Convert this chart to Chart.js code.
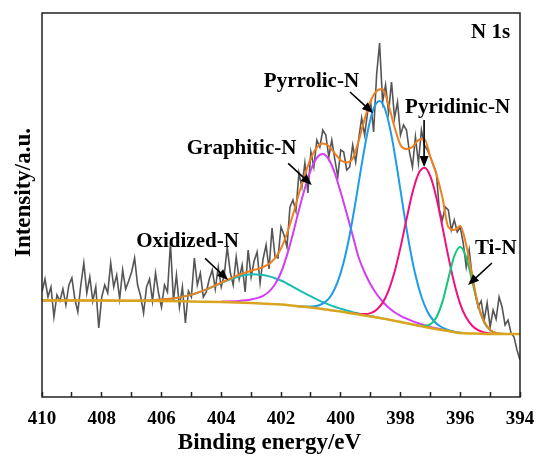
<!DOCTYPE html>
<html>
<head>
<meta charset="utf-8">
<script src="https://cdn.jsdelivr.net/npm/chart.js@4.4.1/dist/chart.umd.min.js"></script>
<style>
html, body { margin: 0; padding: 0; background: #fff; }
</style>
</head>
<body>
<canvas id="chart" width="537" height="457"></canvas>
<script>
// N 1s XPS spectrum, intensity in arbitrary units

// raw counts, 0.1 eV steps
const rawE = [410.0,409.9,409.8,409.7,409.6,409.5,409.4,409.3,409.2,409.1,409.0,408.9,408.8,408.7,408.6,408.5,408.4,408.3,408.2,408.1,
	408.0,407.9,407.8,407.7,407.6,407.5,407.4,407.3,407.2,407.1,407.0,406.9,406.8,406.7,406.6,406.5,406.4,406.3,406.2,406.1,
	406.0,405.9,405.8,405.7,405.6,405.5,405.4,405.3,405.2,405.1,405.0,404.9,404.8,404.7,404.6,404.5,404.4,404.3,404.2,404.1,
	404.0,403.9,403.8,403.7,403.6,403.5,403.4,403.3,403.2,403.1,403.0,402.9,402.8,402.7,402.6,402.5,402.4,402.3,402.2,402.1,
	402.0,401.9,401.8,401.7,401.6,401.5,401.4,401.3,401.2,401.1,401.0,400.9,400.8,400.7,400.6,400.5,400.4,400.3,400.2,400.1,
	400.0,399.9,399.8,399.7,399.6,399.5,399.4,399.3,399.2,399.1,399.0,398.9,398.8,398.7,398.6,398.5,398.4,398.3,398.2,398.1,
	398.0,397.9,397.8,397.7,397.6,397.5,397.4,397.3,397.2,397.1,397.0,396.9,396.8,396.7,396.6,396.5,396.4,396.3,396.2,396.1,
	396.0,395.9,395.8,395.7,395.6,395.5,395.4,395.3,395.2,395.1,395.0,394.9,394.8,394.7,394.6,394.5,394.4,394.3,394.2,394.1,394.0];
const rawI = [105,118,100,110,80,102,96,108,92,112,119,98,85,112,134,104,120,96,110,69,
	100,112,104,134,110,122,98,127,108,116,125,139,112,101,84,110,118,96,124,104,
	90,112,105,154,96,122,90,110,74,106,100,139,112,124,100,105,118,127,108,130,
	110,122,150,125,112,140,118,132,105,147,120,136,145,114,138,152,128,169,140,139,
	170,162,150,190,197,186,224,210,234,204,245,230,257,250,267,262,240,257,238,220,
	247,245,227,230,252,235,258,279,262,285,295,265,322,354,295,312,285,315,279,295,
	262,272,267,245,230,260,234,267,252,247,240,232,224,187,177,190,187,167,177,165,
	170,154,130,147,120,104,90,96,77,94,70,87,78,100,90,72,77,64,60,47,37];

// background
const baseE = [410, 408, 406, 405, 404, 403, 402.5, 402, 401.5, 401, 400.5, 400, 399.5, 399, 398.5, 398, 397.5, 397, 396.5, 396, 395.5, 395, 394];
const baseI = [96.5, 96.5, 96, 95.5, 95, 94, 93.3, 92.5, 91, 89.5, 87.5, 85.5, 83, 80.5, 78, 75, 72, 69, 66.5, 64, 63.5, 63, 63];

// fitted envelope
const envE = [410,408,406.8,406.6,406.4,406.2,406.0,405.8,405.6,405.4,405.2,405.0,404.8,404.6,404.4,404.2,404.0,403.8,403.6,403.4,
	403.2,403.0,402.8,402.6,402.4,402.2,402.0,401.8,401.6,401.4,401.2,401.0,400.8,400.6,400.4,400.2,400.0,399.8,399.6,399.4,
	399.2,399.0,398.8,398.6,398.4,398.2,398.0,397.8,397.6,397.4,397.2,397.0,396.8,396.6,396.4,396.2,396.0,395.8,395.6,395.4,
	395.2,395.0,394.8,394.6,394.4,394.0];
const envI = [96.5,96.4,96.3,96.5,96.6,97.0,97.4,97.9,98.6,99.6,100.9,102.4,104.3,106.4,108.8,111.5,114.3,117.1,119.7,122.2,
	124.4,126.3,127.9,129.9,133.1,138.8,148.5,163.5,182.2,203.2,222.5,238.8,249.7,253.5,250.9,243.7,236.7,234.5,238.5,256,
	278,296,306,308,292,270,252,248,250,257,258,240,223,200,170,167,171,152,121,92,
	75.5,67.1,64,63.2,63,63];

// fitted components (each sitting on the background)
const oxE = [406.8,406.6,406.4,406.2,406.0,405.8,405.6,405.4,405.2,405.0,404.8,404.6,404.4,404.2,404.0,403.8,403.6,403.4,403.2,403.0,
	402.8,402.6,402.4,402.2,402.0,401.8,401.6,401.4,401.2,401.0,400.8,400.6,400.4,400.2,400.0,399.8,399.6,399.4,399.2,399.0,398.8,398.6];
const oxI = [96.3,96.5,96.6,97.0,97.4,97.9,98.6,99.6,100.9,102.4,104.3,106.4,108.8,111.3,113.9,116.4,118.6,120.5,121.9,122.7,
	122.6,121.9,120.6,118.8,116.5,113.5,110.2,106.9,103.7,100.6,97.6,94.8,92.4,90.2,88.3,86.5,84.9,83.5,82.1,80.9,79.7,78.5];

const grE = [404.0,403.8,403.6,403.4,403.2,403.0,402.8,402.6,402.4,402.2,402.0,401.8,401.6,401.4,401.2,401.0,400.8,400.6,400.4,400.2,
	400.0,399.8,399.6,399.4,399.2,399.0,398.8,398.6,398.4,398.2,398.0,397.8,397.6,397.4,397.2,397.0,396.8,396.6,396.4,396.2];
const grI = [95.4,95.5,95.7,96.1,96.7,97.6,98.9,101.2,105.4,112.7,124.5,141.9,163.3,187.0,208.7,227.1,239.2,242.9,237.6,223.9,
	204.5,183.5,161.5,139.5,124.5,112.5,103.0,95.5,89.4,84.7,81.2,78.3,75.9,73.8,71.9,70.1,68.7,67.4,66.2,65.0];

const pyrE = [401.5,401.3,401.1,400.9,400.7,400.5,400.3,400.1,399.9,399.7,399.5,399.3,399.1,398.9,398.7,
	398.5,398.3,398.1,397.9,397.7,397.5,397.3,397.1,396.9,396.7,396.5,396.3,396.1,395.9];
const pyrI = [91.0,90.6,90.4,90.7,92.0,95.5,102.6,115.3,134.9,162.2,195.9,232.3,265.3,288.3,296.0,
	286.3,261.1,225.9,187.3,151.4,121.9,100.2,85.5,76.5,71.2,68.1,66.1,64.7,63.9];

const pydE = [399.6,399.4,399.2,399.0,398.8,398.6,398.4,398.2,398.0,397.8,397.6,397.4,397.2,
	397.0,396.8,396.6,396.4,396.2,396.0,395.8,395.6,395.4,395.2,395.0,394.8,394.6];
const pydI = [83.7,83.0,82.9,83.9,87.2,94.1,106.3,124.9,149.6,177.6,204.2,223.1,229.2,
	220.7,199.6,170.8,140.6,113.7,92.9,79.4,71.3,66.8,64.6,63.5,63.2,63.0];

const tinE = [397.6,397.4,397.2,397.0,396.8,396.6,396.4,396.2,396.0,395.8,395.6,395.4,395.2,395.0,394.8,394.6,394.4];
const tinI = [72.6,71.6,71.2,72.8,79.6,94.9,118.2,140.9,150.0,139.7,115.8,91.3,74.8,66.8,64.0,63.2,63.0];

// annotations (binding energy, intensity)
const labelNames = ['Oxidized-N', 'Graphitic-N', 'Pyrrolic-N', 'Pyridinic-N', 'Ti-N'];
const labelE = [405.13, 403.32, 400.98, 396.09, 394.81];
const labelI = [150, 243, 310, 284, 143];
const arrowFrom = [[404.54, 138.7], [401.76, 233.7], [399.69, 305], [397.21, 277], [394.94, 134]];
const arrowTo = [[403.77, 117], [400.97, 212], [398.92, 284], [397.21, 230], [395.74, 112]];

function pts(e, i) {
	return e.map((v, k) => ({x: v, y: i[k]}));
}

function line(label, color, e, i, width, order, smooth) {
	return {
		label: label,
		data: pts(e, i),
		borderColor: color,
		borderWidth: width,
		pointRadius: 0,
		fill: false,
		order: order,
		cubicInterpolationMode: smooth ? 'monotone' : 'default',
		tension: 0
	};
}

function arrow(ctx, x1, y1, x2, y2) {
	const a = Math.atan2(y2 - y1, x2 - x1);
	const head = 11, half = 4.5;
	ctx.beginPath();
	ctx.moveTo(x1, y1);
	ctx.lineTo(x2 - head * 0.8 * Math.cos(a), y2 - head * 0.8 * Math.sin(a));
	ctx.stroke();
	ctx.beginPath();
	ctx.moveTo(x2, y2);
	ctx.lineTo(x2 - head * Math.cos(a) + half * Math.sin(a), y2 - head * Math.sin(a) - half * Math.cos(a));
	ctx.lineTo(x2 - head * Math.cos(a) - half * Math.sin(a), y2 - head * Math.sin(a) + half * Math.cos(a));
	ctx.closePath();
	ctx.fill();
}

const decor = {
	id: 'decor',
	afterDatasetsDraw(chart) {
		const ctx = chart.ctx;
		const area = chart.chartArea;
		const sx = chart.scales.x, sy = chart.scales.y;
		ctx.save();
		ctx.strokeStyle = '#222';
		ctx.lineWidth = 1.5;
		ctx.strokeRect(area.left, area.top, area.right - area.left, area.bottom - area.top);

		ctx.fillStyle = '#000';
		ctx.strokeStyle = '#000';
		ctx.lineWidth = 1.6;
		ctx.font = 'bold 21px "Liberation Serif"';
		ctx.textAlign = 'center';
		ctx.textBaseline = 'alphabetic';
		labelNames.forEach((t, k) => {
			ctx.fillText(t, sx.getPixelForValue(labelE[k]), sy.getPixelForValue(labelI[k]));
			arrow(ctx, sx.getPixelForValue(arrowFrom[k][0]), sy.getPixelForValue(arrowFrom[k][1]),
				sx.getPixelForValue(arrowTo[k][0]), sy.getPixelForValue(arrowTo[k][1]));
		});
		ctx.textAlign = 'right';
		ctx.fillText('N 1s', sx.getPixelForValue(394.33), sy.getPixelForValue(359));

		// axis titles
		ctx.font = 'bold 23px "Liberation Serif"';
		ctx.textAlign = 'center';
		ctx.fillText('Binding energy/eV', area.left + 227.5, chart.height - 8);
		ctx.translate(29.5, area.top + 179.5);
		ctx.rotate(-Math.PI / 2);
		ctx.fillText('Intensity/a.u.', 0, 0);
		ctx.restore();
	}
};

new Chart(document.getElementById('chart'), {
	type: 'line',
	data: {
		datasets: [
			line('Background', '#D9A521', baseE, baseI, 2.5, 1, true),
			line('Envelope', '#F07F1E', envE, envI, 2, 2, true),
			line('Ti-N', '#10C77B', tinE, tinI, 2, 3, true),
			line('Pyridinic-N', '#F0107C', pydE, pydI, 2, 3, true),
			line('Pyrrolic-N', '#1E9BEA', pyrE, pyrI, 2, 3, true),
			line('Graphitic-N', '#D23FF2', grE, grI, 2, 3, true),
			line('Oxidized-N', '#19BDB4', oxE, oxI, 2, 3, true),
			line('Raw', '#555555', rawE, rawI, 1.6, 10, false)
		]
	},
	options: {
		responsive: false,
		animation: false,
		layout: {padding: {top: 13, right: 17, left: 0, bottom: 0}},
		plugins: {legend: {display: false}, tooltip: {enabled: false}},
		scales: {
			x: {
				type: 'linear',
				reverse: true,
				min: 394,
				max: 410,
				afterFit: (s) => { s.height = 60; s.paddingLeft = 0; s.paddingRight = 0; },
				border: {display: false},
				grid: {drawOnChartArea: false, tickLength: -5, tickColor: '#222', tickWidth: 1.5},
				ticks: {
					stepSize: 1,
					autoSkip: false,
					maxRotation: 0,
					padding: 16,
					color: '#000',
					font: {family: 'Liberation Serif', weight: 'bold', size: 19},
					callback: (v) => (v % 2 === 0 ? String(v) : '')
				}
			},
			y: {
				min: 0,
				max: 384,
				afterFit: (s) => { s.width = 42; },
				border: {display: false},
				grid: {display: false},
				ticks: {display: false}
			}
		}
	},
	plugins: [decor]
});
</script>
</body>
</html>
